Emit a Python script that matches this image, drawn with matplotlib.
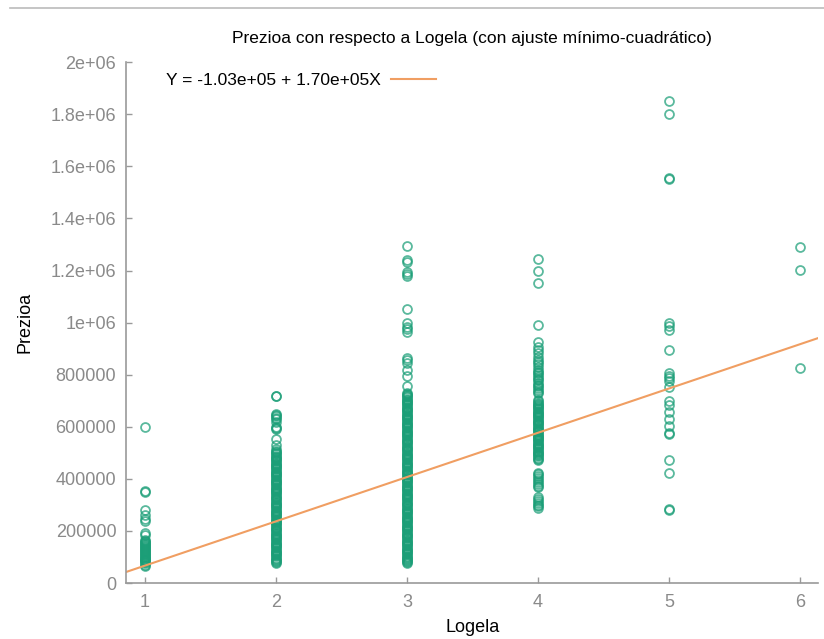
import matplotlib.pyplot as plt
from matplotlib.lines import Line2D
import numpy as np

plt.rcParams['font.family'] = ['Liberation Sans', 'DejaVu Sans']

# Prezioa (price, in thousands) per Logela (rooms)
logela_1 = [600, 355, 350, 280, 262, 245, 240, 192, 186, 165, 161, 157, 152, 148,
            145, 141, 137, 134, 130, 126, 122, 119, 115, 111, 108, 104, 100, 97,
            93, 90, 88, 84, 80, 75, 70, 66]

logela_2 = [720, 718, 650, 645, 640, 635, 628, 620, 600, 595, 590, 555, 530, 515,
            508, 503, 498, 494, 489, 485, 480, 476, 471, 467, 462, 458, 454, 449,
            445, 441, 436, 432, 428, 423, 419, 414, 410, 406, 401, 397, 392, 388,
            384, 379, 375, 370, 366, 362, 357, 353, 348, 344, 340, 335, 331, 326,
            322, 318, 313, 309, 304, 300, 296, 291, 287, 282, 278, 274, 269, 265,
            260, 256, 252, 247, 243, 238, 234, 230, 225, 221, 216, 212, 208, 203,
            199, 194, 190, 186, 181, 177, 172, 168, 164, 159, 155, 150, 146, 142,
            137, 133, 128, 124, 120, 115, 111, 106, 102, 98, 93, 89, 85, 81, 78]

logela_3 = [1294, 1240, 1232, 1195, 1185, 1180, 1052, 1000, 985, 975, 965, 865,
            855, 845, 820, 795, 755, 730, 726, 721, 717, 713, 708, 704, 699, 695,
            691, 686, 682, 677, 673, 669, 664, 660, 655, 651, 647, 642, 638, 633,
            629, 625, 620, 616, 611, 607, 603, 598, 594, 589, 585, 581, 576, 572,
            567, 563, 559, 554, 550, 545, 541, 537, 532, 528, 523, 519, 515, 510,
            506, 501, 497, 493, 488, 484, 479, 475, 471, 466, 462, 457, 453, 449,
            444, 440, 435, 431, 427, 422, 418, 413, 409, 405, 400, 396, 391, 387,
            383, 378, 374, 369, 365, 361, 356, 352, 347, 343, 339, 334, 330, 325,
            321, 317, 312, 308, 303, 299, 295, 290, 286, 281, 277, 273, 268, 264,
            259, 255, 251, 246, 242, 237, 233, 229, 224, 220, 215, 211, 207, 202,
            198, 193, 189, 185, 180, 176, 171, 167, 163, 158, 154, 149, 145, 141,
            136, 132, 127, 123, 119, 114, 110, 105, 101, 97, 92, 88, 84, 80, 77]

logela_4 = [1244, 1198, 1153, 990, 926, 905, 895, 883, 869, 858, 850, 840, 830,
            820, 812, 805, 800, 792, 785, 778, 770, 762, 755, 748, 740, 735, 730,
            702, 698, 693, 689, 684, 680, 676, 671, 667, 662, 658, 654, 649, 645,
            640, 636, 632, 627, 623, 618, 614, 610, 605, 601, 596, 592, 588, 583,
            579, 574, 570, 566, 561, 557, 552, 548, 544, 539, 535, 530, 526, 522,
            517, 513, 508, 504, 500, 495, 491, 486, 482, 478, 472, 422, 417, 410,
            403, 395, 388, 380, 374, 369, 330, 322, 315, 308, 300, 294, 288]

logela_5 = [1852, 1802, 1555, 1552, 1000, 986, 973, 894, 808, 795, 787, 774, 753,
            699, 685, 657, 630, 602, 575, 572, 472, 424, 283, 280]

logela_6 = [1292, 1201, 824]

groups = [logela_1, logela_2, logela_3, logela_4, logela_5, logela_6]

# least squares fit shown in the chart
intercept = -1.03e5
slope = 1.70e5

green = '#1b9e77'
orange = '#f09e62'

fig = plt.figure(figsize=(8.24, 6.39), dpi=100)
ax = fig.add_axes([0.153, 0.0876, 0.840, 0.815])

for i, vals in enumerate(groups):
    prices = np.array(vals) * 1000
    ax.plot([i + 1] * len(prices), prices, linestyle='none', marker='o', ms=6.4,
            mfc='none', mec=green, mew=1.3, alpha=0.72)

xs = np.array([0.855, 6.14])
ax.plot(xs, intercept + slope * xs, color=orange, lw=1.5,
        label='Y = -1.03e+05 + 1.70e+05X')

ax.set_xlim(0.855, 6.14)
ax.set_ylim(0, 2e6)
ax.set_xticks([1, 2, 3, 4, 5, 6])
ax.set_yticks([0, 200000, 400000, 600000, 800000, 1000000, 1200000, 1400000,
               1600000, 1800000, 2000000])
ax.set_yticklabels(['0', '200000', '400000', '600000', '800000', '1e+06',
                    '1.2e+06', '1.4e+06', '1.6e+06', '1.8e+06', '2e+06'])

for s in ['top', 'right']:
    ax.spines[s].set_visible(False)
for s in ['left', 'bottom']:
    ax.spines[s].set_color('#9a9a9a')
    ax.spines[s].set_linewidth(1.2)
ax.tick_params(direction='in', length=4, width=1, color='#9a9a9a',
               labelcolor='#8a8a8a', labelsize=13, pad=7)
ax.tick_params(axis='x', pad=8)

ax.set_title('Prezioa con respecto a Logela (con ajuste mínimo-cuadrático)',
             fontsize=12.5, pad=14)
ax.set_xlabel('Logela', fontsize=13, labelpad=6)
ax.set_ylabel('Prezioa', fontsize=13, labelpad=12)

ax.legend(loc='upper left', bbox_to_anchor=(0.035, 1.01), frameon=False,
          markerfirst=False, fontsize=12.5, handlelength=2.6, handletextpad=0.6)

# screenshot border line on top
fig.add_artist(Line2D([10 / 824, 1], [1 - 7.5 / 639, 1 - 7.5 / 639],
                      color='#bbbbbb', lw=1.2))

fig.savefig('out.png', dpi=100)
